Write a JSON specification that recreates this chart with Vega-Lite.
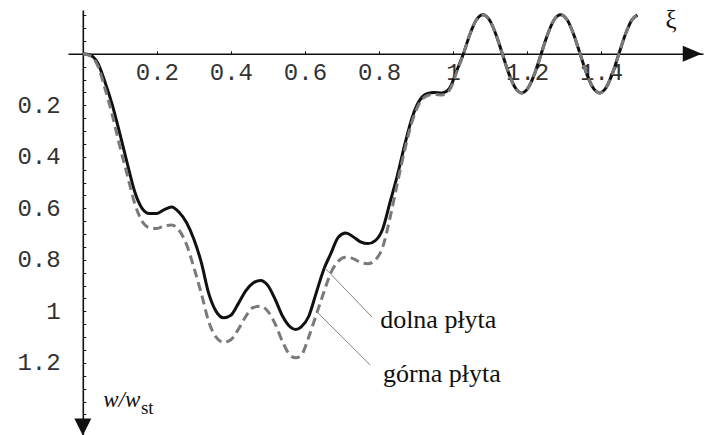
{
  "$schema": "https://vega.github.io/schema/vega-lite/v6.json",
  "width": 635,
  "height": 425,
  "autosize": {"type": "none"},
  "padding": {"left": 68, "top": 10, "right": 2, "bottom": 0},
  "background": "white",
  "config": {"view": {"stroke": null}},
  "resolve": {"axis": {"y": "independent"}},
  "datasets": {
    "curves": [
      {"xi": 0, "w": 0, "s": "dolna"}, {"xi": 0.02, "w": 0.005, "s": "dolna"}, {"xi": 0.04, "w": 0.035, "s": "dolna"}, {"xi": 0.06, "w": 0.11, "s": "dolna"}, {"xi": 0.08, "w": 0.2, "s": "dolna"}, {"xi": 0.1, "w": 0.31, "s": "dolna"}, {"xi": 0.12, "w": 0.425, "s": "dolna"}, {"xi": 0.14, "w": 0.535, "s": "dolna"}, {"xi": 0.16, "w": 0.6, "s": "dolna"}, {"xi": 0.18, "w": 0.62, "s": "dolna"}, {"xi": 0.2, "w": 0.62, "s": "dolna"}, {"xi": 0.22, "w": 0.605, "s": "dolna"}, {"xi": 0.24, "w": 0.595, "s": "dolna"}, {"xi": 0.26, "w": 0.615, "s": "dolna"}, {"xi": 0.28, "w": 0.655, "s": "dolna"}, {"xi": 0.3, "w": 0.72, "s": "dolna"}, {"xi": 0.32, "w": 0.81, "s": "dolna"}, {"xi": 0.34, "w": 0.93, "s": "dolna"}, {"xi": 0.36, "w": 1.0, "s": "dolna"}, {"xi": 0.38, "w": 1.025, "s": "dolna"}, {"xi": 0.4, "w": 1.015, "s": "dolna"}, {"xi": 0.42, "w": 0.97, "s": "dolna"}, {"xi": 0.44, "w": 0.92, "s": "dolna"}, {"xi": 0.46, "w": 0.89, "s": "dolna"}, {"xi": 0.48, "w": 0.88, "s": "dolna"}, {"xi": 0.5, "w": 0.9, "s": "dolna"}, {"xi": 0.52, "w": 0.955, "s": "dolna"}, {"xi": 0.54, "w": 1.02, "s": "dolna"}, {"xi": 0.56, "w": 1.06, "s": "dolna"}, {"xi": 0.575, "w": 1.07, "s": "dolna"}, {"xi": 0.59, "w": 1.06, "s": "dolna"}, {"xi": 0.61, "w": 1.02, "s": "dolna"}, {"xi": 0.63, "w": 0.93, "s": "dolna"}, {"xi": 0.65, "w": 0.84, "s": "dolna"}, {"xi": 0.67, "w": 0.775, "s": "dolna"}, {"xi": 0.69, "w": 0.712, "s": "dolna"}, {"xi": 0.71, "w": 0.696, "s": "dolna"}, {"xi": 0.73, "w": 0.71, "s": "dolna"}, {"xi": 0.75, "w": 0.73, "s": "dolna"}, {"xi": 0.77, "w": 0.737, "s": "dolna"}, {"xi": 0.79, "w": 0.725, "s": "dolna"}, {"xi": 0.81, "w": 0.68, "s": "dolna"}, {"xi": 0.83, "w": 0.575, "s": "dolna"}, {"xi": 0.85, "w": 0.47, "s": "dolna"}, {"xi": 0.87, "w": 0.35, "s": "dolna"}, {"xi": 0.89, "w": 0.245, "s": "dolna"}, {"xi": 0.91, "w": 0.18, "s": "dolna"}, {"xi": 0.93, "w": 0.155, "s": "dolna"}, {"xi": 0.95, "w": 0.15, "s": "dolna"}, {"xi": 0.97, "w": 0.152, "s": "dolna"}, {"xi": 0.99, "w": 0.135, "s": "dolna"}, {"xi": 1.01, "w": 0.065, "s": "dolna"},
      {"xi": 1.028, "w": 0, "s": "dolna"}, {"xi": 1.0455, "w": -0.076, "s": "dolna"}, {"xi": 1.063, "w": -0.132, "s": "dolna"}, {"xi": 1.0805, "w": -0.152, "s": "dolna"}, {"xi": 1.098, "w": -0.132, "s": "dolna"}, {"xi": 1.1155, "w": -0.076, "s": "dolna"}, {"xi": 1.133, "w": 0, "s": "dolna"}, {"xi": 1.1505, "w": 0.076, "s": "dolna"}, {"xi": 1.168, "w": 0.132, "s": "dolna"}, {"xi": 1.1855, "w": 0.152, "s": "dolna"}, {"xi": 1.203, "w": 0.132, "s": "dolna"}, {"xi": 1.2205, "w": 0.076, "s": "dolna"}, {"xi": 1.238, "w": 0, "s": "dolna"}, {"xi": 1.2555, "w": -0.076, "s": "dolna"}, {"xi": 1.273, "w": -0.132, "s": "dolna"}, {"xi": 1.2905, "w": -0.152, "s": "dolna"}, {"xi": 1.308, "w": -0.132, "s": "dolna"}, {"xi": 1.3255, "w": -0.076, "s": "dolna"}, {"xi": 1.343, "w": 0, "s": "dolna"}, {"xi": 1.3605, "w": 0.076, "s": "dolna"}, {"xi": 1.378, "w": 0.132, "s": "dolna"}, {"xi": 1.3955, "w": 0.152, "s": "dolna"}, {"xi": 1.413, "w": 0.132, "s": "dolna"}, {"xi": 1.4305, "w": 0.076, "s": "dolna"}, {"xi": 1.448, "w": 0, "s": "dolna"}, {"xi": 1.4655, "w": -0.076, "s": "dolna"}, {"xi": 1.483, "w": -0.132, "s": "dolna"}, {"xi": 1.498, "w": -0.15, "s": "dolna"},
      {"xi": 0, "w": 0, "s": "gorna"}, {"xi": 0.02, "w": 0.008, "s": "gorna"}, {"xi": 0.04, "w": 0.045, "s": "gorna"}, {"xi": 0.06, "w": 0.135, "s": "gorna"}, {"xi": 0.08, "w": 0.24, "s": "gorna"}, {"xi": 0.1, "w": 0.36, "s": "gorna"}, {"xi": 0.12, "w": 0.47, "s": "gorna"}, {"xi": 0.14, "w": 0.58, "s": "gorna"}, {"xi": 0.16, "w": 0.65, "s": "gorna"}, {"xi": 0.18, "w": 0.675, "s": "gorna"}, {"xi": 0.2, "w": 0.678, "s": "gorna"}, {"xi": 0.22, "w": 0.668, "s": "gorna"}, {"xi": 0.24, "w": 0.665, "s": "gorna"}, {"xi": 0.26, "w": 0.685, "s": "gorna"}, {"xi": 0.28, "w": 0.74, "s": "gorna"}, {"xi": 0.3, "w": 0.83, "s": "gorna"}, {"xi": 0.32, "w": 0.93, "s": "gorna"}, {"xi": 0.34, "w": 1.04, "s": "gorna"}, {"xi": 0.36, "w": 1.1, "s": "gorna"}, {"xi": 0.38, "w": 1.12, "s": "gorna"}, {"xi": 0.4, "w": 1.11, "s": "gorna"}, {"xi": 0.42, "w": 1.07, "s": "gorna"}, {"xi": 0.44, "w": 1.02, "s": "gorna"}, {"xi": 0.46, "w": 0.985, "s": "gorna"}, {"xi": 0.48, "w": 0.98, "s": "gorna"}, {"xi": 0.5, "w": 1.0, "s": "gorna"}, {"xi": 0.52, "w": 1.05, "s": "gorna"}, {"xi": 0.54, "w": 1.12, "s": "gorna"}, {"xi": 0.56, "w": 1.17, "s": "gorna"}, {"xi": 0.575, "w": 1.18, "s": "gorna"}, {"xi": 0.59, "w": 1.17, "s": "gorna"}, {"xi": 0.61, "w": 1.1, "s": "gorna"}, {"xi": 0.63, "w": 1.015, "s": "gorna"}, {"xi": 0.65, "w": 0.93, "s": "gorna"}, {"xi": 0.67, "w": 0.85, "s": "gorna"}, {"xi": 0.69, "w": 0.805, "s": "gorna"}, {"xi": 0.71, "w": 0.79, "s": "gorna"}, {"xi": 0.73, "w": 0.795, "s": "gorna"}, {"xi": 0.75, "w": 0.81, "s": "gorna"}, {"xi": 0.77, "w": 0.815, "s": "gorna"}, {"xi": 0.79, "w": 0.8, "s": "gorna"}, {"xi": 0.81, "w": 0.75, "s": "gorna"}, {"xi": 0.83, "w": 0.635, "s": "gorna"}, {"xi": 0.85, "w": 0.5, "s": "gorna"}, {"xi": 0.87, "w": 0.37, "s": "gorna"}, {"xi": 0.89, "w": 0.26, "s": "gorna"}, {"xi": 0.91, "w": 0.19, "s": "gorna"}, {"xi": 0.93, "w": 0.163, "s": "gorna"}, {"xi": 0.95, "w": 0.158, "s": "gorna"}, {"xi": 0.97, "w": 0.16, "s": "gorna"}, {"xi": 0.99, "w": 0.142, "s": "gorna"}, {"xi": 1.01, "w": 0.07, "s": "gorna"},
      {"xi": 1.028, "w": 0, "s": "gorna"}, {"xi": 1.0455, "w": -0.076, "s": "gorna"}, {"xi": 1.063, "w": -0.132, "s": "gorna"}, {"xi": 1.0805, "w": -0.152, "s": "gorna"}, {"xi": 1.098, "w": -0.132, "s": "gorna"}, {"xi": 1.1155, "w": -0.076, "s": "gorna"}, {"xi": 1.133, "w": 0, "s": "gorna"}, {"xi": 1.1505, "w": 0.076, "s": "gorna"}, {"xi": 1.168, "w": 0.132, "s": "gorna"}, {"xi": 1.1855, "w": 0.152, "s": "gorna"}, {"xi": 1.203, "w": 0.132, "s": "gorna"}, {"xi": 1.2205, "w": 0.076, "s": "gorna"}, {"xi": 1.238, "w": 0, "s": "gorna"}, {"xi": 1.2555, "w": -0.076, "s": "gorna"}, {"xi": 1.273, "w": -0.132, "s": "gorna"}, {"xi": 1.2905, "w": -0.152, "s": "gorna"}, {"xi": 1.308, "w": -0.132, "s": "gorna"}, {"xi": 1.3255, "w": -0.076, "s": "gorna"}, {"xi": 1.343, "w": 0, "s": "gorna"}, {"xi": 1.3605, "w": 0.076, "s": "gorna"}, {"xi": 1.378, "w": 0.132, "s": "gorna"}, {"xi": 1.3955, "w": 0.152, "s": "gorna"}, {"xi": 1.413, "w": 0.132, "s": "gorna"}, {"xi": 1.4305, "w": 0.076, "s": "gorna"}, {"xi": 1.448, "w": 0, "s": "gorna"}, {"xi": 1.4655, "w": -0.076, "s": "gorna"}, {"xi": 1.483, "w": -0.132, "s": "gorna"}, {"xi": 1.498, "w": -0.15, "s": "gorna"}
    ],
    "leaders": [
      {"xi": 0.654, "w": 0.832, "xi2": 0.781, "w2": 1.022},
      {"xi": 0.635, "w": 1.006, "xi2": 0.776, "w2": 1.208}
    ],
    "plateLabels": [
      {"xi": 0.803, "w": 1.065, "label": "dolna płyta"},
      {"xi": 0.811, "w": 1.274, "label": "górna płyta"}
    ]
  },
  "layer": [
    {
      "data": {"name": "curves"},
      "transform": [{"filter": "datum.s === 'dolna'"}],
      "mark": {"type": "line", "interpolate": "monotone", "color": "#111111", "strokeWidth": 3},
      "encoding": {
        "x": {
          "field": "xi", "type": "quantitative",
          "scale": {"domain": [-0.04, 1.675], "nice": false, "zero": false},
          "axis": {
            "orient": "bottom", "offset": -381.2, "title": null, "grid": false,
            "values": [0.2, 0.4, 0.6, 0.8, 1, 1.2, 1.4], "format": "~g",
            "tickSize": -3, "tickColor": "#111111", "tickWidth": 1,
            "labelPadding": 9.6, "labelFont": "Liberation Mono", "labelFontSize": 24,
            "labelColor": "#333333", "labelBaseline": "top", "labelAlign": "center",
            "labelOverlap": false, "labelFlush": false, "labelBound": false,
            "domainColor": "#111111", "domainWidth": 1.6
          }
        },
        "y": {
          "field": "w", "type": "quantitative",
          "scale": {"domain": [-0.17, 1.48], "nice": false, "zero": false, "reverse": true},
          "axis": {
            "orient": "left", "offset": -14.81, "title": null, "grid": false,
            "values": [0.2, 0.4, 0.6, 0.8, 1, 1.2], "format": "~g",
            "tickSize": 0, "ticks": false,
            "labelPadding": 22.7, "labelFont": "Liberation Mono", "labelFontSize": 24,
            "labelColor": "#333333", "labelAlign": "right", "labelBaseline": "middle",
            "labelOverlap": false, "labelFlush": false, "labelBound": false,
            "domainColor": "#111111", "domainWidth": 1.6
          }
        }
      }
    },
    {
      "data": {"name": "curves"},
      "transform": [{"filter": "datum.s === 'gorna'"}],
      "mark": {"type": "line", "interpolate": "monotone", "color": "#7a7a7a", "strokeWidth": 3, "strokeDash": [9, 5]},
      "encoding": {
        "x": {"field": "xi", "type": "quantitative"},
        "y": {
          "field": "w", "type": "quantitative",
          "axis": {
            "orient": "left", "offset": -14.81, "title": null, "grid": false,
            "values": [-0.15, -0.1, -0.05, 0.05, 0.1, 0.15, 0.2, 0.25, 0.3, 0.35, 0.4, 0.45, 0.5, 0.55, 0.6, 0.65, 0.7, 0.75, 0.8, 0.85, 0.9, 0.95, 1, 1.05, 1.1, 1.15, 1.2, 1.25, 1.3, 1.35, 1.4],
            "labels": false, "domain": false,
            "tickSize": -3, "tickColor": "#111111", "tickWidth": 1
          }
        }
      }
    },
    {
      "data": {"name": "leaders"},
      "mark": {"type": "rule", "color": "#8a7f7a", "strokeWidth": 1},
      "encoding": {
        "x": {"field": "xi", "type": "quantitative"},
        "y": {"field": "w", "type": "quantitative", "axis": null},
        "x2": {"field": "xi2"},
        "y2": {"field": "w2"}
      }
    },
    {
      "data": {"name": "plateLabels"},
      "mark": {"type": "text", "font": "Liberation Serif", "fontSize": 26, "align": "left", "baseline": "alphabetic", "color": "#111111"},
      "encoding": {
        "x": {"field": "xi", "type": "quantitative"},
        "y": {"field": "w", "type": "quantitative", "axis": null},
        "text": {"field": "label"}
      }
    },
    {
      "data": {"values": [{"xi": 1.589, "w": -0.132, "label": "ξ"}]},
      "mark": {"type": "text", "font": "Liberation Serif", "fontSize": 25, "align": "center", "baseline": "middle", "color": "#111111"},
      "encoding": {
        "x": {"field": "xi", "type": "quantitative"},
        "y": {"field": "w", "type": "quantitative", "axis": null},
        "text": {"field": "label"}
      }
    },
    {
      "data": {"values": [{"xi": 0.055, "w": 1.371, "label": "w/w"}]},
      "mark": {"type": "text", "font": "Liberation Serif", "fontStyle": "italic", "fontSize": 23, "align": "left", "baseline": "alphabetic", "color": "#111111"},
      "encoding": {
        "x": {"field": "xi", "type": "quantitative"},
        "y": {"field": "w", "type": "quantitative", "axis": null},
        "text": {"field": "label"}
      }
    },
    {
      "data": {"values": [{"xi": 0.157, "w": 1.398, "label": "st"}]},
      "mark": {"type": "text", "font": "Liberation Serif", "fontSize": 19, "align": "left", "baseline": "alphabetic", "color": "#111111"},
      "encoding": {
        "x": {"field": "xi", "type": "quantitative"},
        "y": {"field": "w", "type": "quantitative", "axis": null},
        "text": {"field": "label"}
      }
    },
    {
      "data": {"values": [{"xi": 1.646, "w": 0}]},
      "mark": {"type": "point", "shape": "M-1,-0.84L1,0L-1,0.84Z", "size": 361, "filled": true, "color": "#111111", "opacity": 1, "strokeWidth": 0},
      "encoding": {
        "x": {"field": "xi", "type": "quantitative"},
        "y": {"field": "w", "type": "quantitative", "axis": null}
      }
    },
    {
      "data": {"values": [{"xi": 0, "w": 1.449}]},
      "mark": {"type": "point", "shape": "M-1,-1L1,-1L0,1Z", "size": 289, "filled": true, "color": "#111111", "opacity": 1, "strokeWidth": 0},
      "encoding": {
        "x": {"field": "xi", "type": "quantitative"},
        "y": {"field": "w", "type": "quantitative", "axis": null}
      }
    }
  ]
}
